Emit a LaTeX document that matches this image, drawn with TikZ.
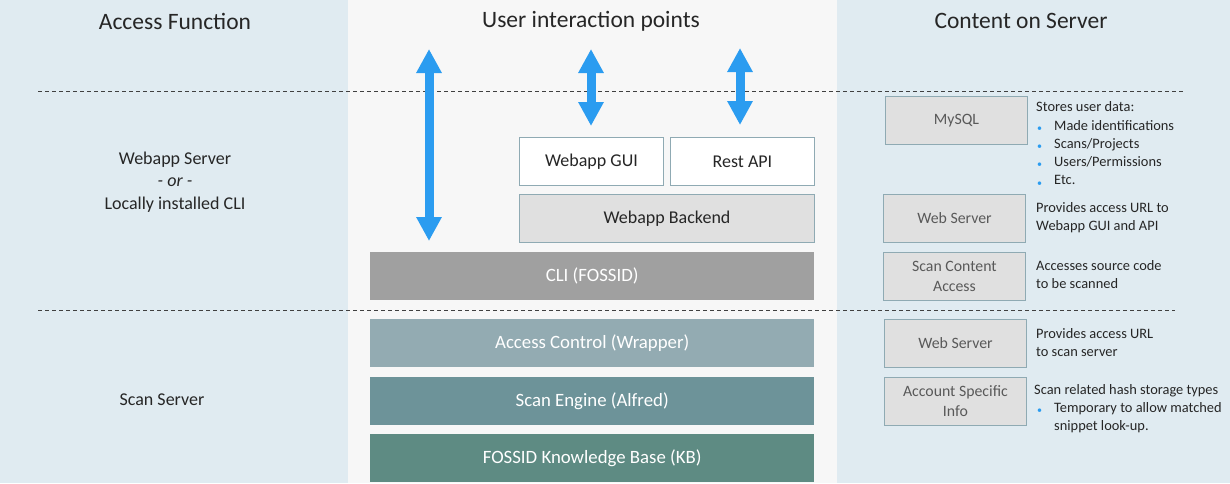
\documentclass[tikz,border=0pt]{standalone}
\usepackage{fontspec}
\setmainfont{Carlito}
\usetikzlibrary{arrows.meta}
\definecolor{bgblue}{HTML}{E0EBF1}
\definecolor{bggrey}{HTML}{F7F7F7}
\definecolor{boxborder}{HTML}{8FAAB3}
\definecolor{lightbox}{HTML}{E0E0E0}
\definecolor{cligrey}{HTML}{A0A0A0}
\definecolor{acc}{HTML}{93ABB2}
\definecolor{eng}{HTML}{6D9399}
\definecolor{kb}{HTML}{5E8B83}
\definecolor{arrowblue}{HTML}{2B9CF0}
\definecolor{txt}{HTML}{262626}
\definecolor{boxtxt}{HTML}{595959}
\begin{document}
\begin{tikzpicture}[x=1pt,y=-1pt,
  title/.style={font=\fontsize{23.5}{28}\selectfont, text=txt, inner sep=0},
  lbl/.style={font=\fontsize{18}{22.5}\selectfont, text=txt, align=center, inner sep=0},
  mbox/.style={draw=boxborder, line width=0.9pt, anchor=north west, inner sep=0, text=txt, font=\fontsize{18}{21}\selectfont},
  rbox/.style={draw=boxborder, line width=0.9pt, anchor=north west, inner sep=0, fill=lightbox, text=boxtxt, align=center, font=\fontsize{15.8}{20}\selectfont, minimum width=142pt, minimum height=48pt},
  layer/.style={anchor=north west, inner sep=0, minimum width=444pt, minimum height=48pt, text=white, font=\fontsize{18.8}{22}\selectfont},
  desc/.style={anchor=north west, inner sep=0, text=txt, font=\fontsize{14.4}{18}\selectfont, align=left},
  bul/.style={anchor=west, inner sep=0, text=arrowblue, font=\fontsize{10}{12}\selectfont},
  bluearrow/.style={draw=arrowblue, line width=9pt, {Triangle[width=24pt,length=24pt]}-{Triangle[width=24pt,length=24pt]}},
  dline/.style={draw=black!75, line width=0.8pt, dash pattern=on 4pt off 3pt}
]
\useasboundingbox (0,0) rectangle (1230,483);
\fill[bgblue] (0,0) rectangle (348,483);
\fill[bggrey] (348,0) rectangle (837,483);
\fill[bgblue] (837,0) rectangle (1230,483);

\draw[dline] (38,91) -- (1183,91);
\draw[dline] (38,310) -- (1175,310);

\node[title] (t1) at (175,21) {Access Function};
\node[title] (t2) at (591,21) {User interaction points};
\node[title] (t3) at (1021,21) {Content on Server};

\node[lbl] (wl) at (175,182) {Webapp Server\\\textit{- or -}\\Locally installed CLI};
\node[lbl] (ss) at (162,400) {Scan Server};

\node[mbox, fill=white, minimum width=144pt, minimum height=48pt] (gui) at (519,137) {Webapp GUI};
\node[mbox, fill=white, minimum width=144pt, minimum height=48pt] (api) at (670,137) {Rest API};
\node[mbox, fill=lightbox, minimum width=295pt, minimum height=48pt] (be) at (519,194) {Webapp Backend};
\node[layer, fill=cligrey] (cli) at (370,252) {CLI (FOSSID)};
\node[layer, fill=acc] (ac) at (370,319) {Access Control (Wrapper)};
\node[layer, fill=eng] (se) at (370,377) {Scan Engine (Alfred)};
\node[layer, fill=kb] (kbn) at (370,434) {FOSSID Knowledge Base (KB)};

\coordinate (a1) at (429,49);
\coordinate (a2) at (591,49);
\coordinate (a3) at (740,48);
\draw[bluearrow] (a1) -- ([yshift=11pt]cli.north -| a1);
\draw[bluearrow] (a2) -- ([yshift=11pt]gui.north -| a2);
\draw[bluearrow] (a3) -- ([yshift=12pt]api.north -| a3);

\node[rbox] (mysql) at (885,96) {MySQL};
\node[rbox] (ws1) at (883,194) {Web Server};
\node[rbox] (sca) at (883,252) {Scan Content\\Access};
\node[rbox] (ws2) at (884,319) {Web Server};
\node[rbox] (asi) at (884,377) {Account Specific\\Info};

\node[desc] (d1) at (1036,101) {Stores user data:};
\node[desc] (d1a) at (1054,120) {Made identifications};
\node[desc] (d1b) at (1054,138) {Scans/Projects};
\node[desc] (d1c) at (1054,156) {Users/Permissions};
\node[desc] (d1d) at (1054,175) {Etc.};
\node[bul] at (1037,129) {•};
\node[bul] at (1037,147) {•};
\node[bul] at (1037,165) {•};
\node[bul] at (1037,184) {•};

\node[desc] (d2) at (1036,202) {Provides access URL to\\Webapp GUI and API};
\node[desc] (d3) at (1036,260) {Accesses source code\\to be scanned};
\node[desc] (d4) at (1036,328) {Provides access URL\\to scan server};
\node[desc] (d5) at (1034,384) {Scan related hash storage types};
\node[desc] (d5a) at (1054,402) {Temporary to allow matched\\snippet look-up.};
\node[bul] at (1037,411) {•};
\end{tikzpicture}
\end{document}
